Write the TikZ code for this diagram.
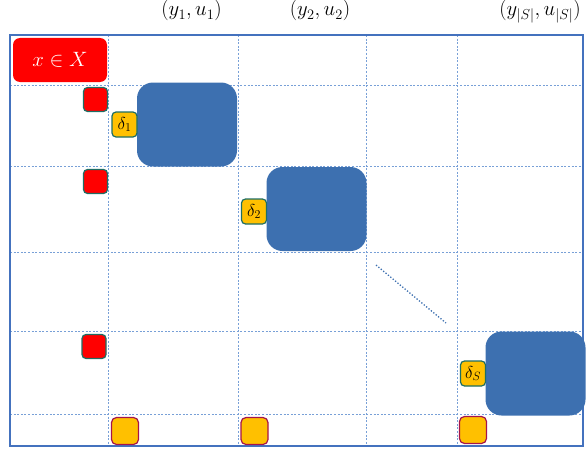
\documentclass[tikz,border=0pt]{standalone}
\usetikzlibrary{positioning}

\definecolor{frameblue}{RGB}{68,114,190}
\definecolor{gridblue}{RGB}{120,160,215}
\definecolor{blockblue}{RGB}{61,112,176}
\definecolor{boxteal}{RGB}{30,110,100}
\definecolor{deltayellow}{RGB}{255,192,0}
\definecolor{boxcrimson}{RGB}{165,20,75}

\tikzset{
  block/.style={fill=blockblue, rounded corners=16pt, minimum width=100pt,
    minimum height=84pt, inner sep=0, outer sep=0},
  redsq/.style={fill=red, draw=boxteal, line width=1.2pt, rounded corners=4pt,
    minimum size=24pt, inner sep=0},
  deltabox/.style={fill=deltayellow, draw=boxteal, line width=1.2pt,
    rounded corners=4pt, minimum size=25pt, inner sep=0, outer sep=0,
    font=\fontsize{17}{18}\selectfont},
  yellowsq/.style={fill=deltayellow, draw=boxcrimson, line width=1.2pt,
    rounded corners=5pt, minimum size=27pt, inner sep=0},
  collabel/.style={anchor=base, font=\fontsize{19.5}{24}\selectfont},
  gridline/.style={draw=gridblue, line width=0.8pt, dash pattern=on 2pt off 1.6pt},
}

\begin{document}
\begin{tikzpicture}[x=1pt, y=-1pt]
  \useasboundingbox (0,0) rectangle (586,452);

  % grid and frame
  \foreach \gy in {85,166,252,331,414}
    \draw[gridline] (10,\gy) -- (583,\gy);
  \foreach \gx in {108,238,366,457}
    \draw[gridline] (\gx,35) -- (\gx,446);
  \draw[frameblue, line width=2.5pt] (10,35) rectangle (583,446);

  \node[collabel] (L1) at (191.5,16) {$(y_1,u_1)$};
  \node[collabel] (L2) at (320,16)   {$(y_2,u_2)$};
  \node[collabel] (LS) at (540,16)   {$(y_{|S|},u_{|S|})$};

  \node[fill=red, rounded corners=7pt, minimum width=94pt, minimum height=44pt,
    text=white, font=\fontsize{21}{24}\selectfont] (X) at (60,60) {$x \in X$};

  \node[block] (B1) at (187,124.5) {};
  \node[block] (B2) at (316.5,209)  {};
  \node[block] (B3) at (535.5,373.5) {};

  \begin{scope}[node distance=0]
    \node[deltabox, left=of B1] (D1) {$\delta_1$};
    \node[deltabox, left=of B2, yshift=-2.5pt] (D2) {$\delta_2$};
    \node[deltabox, left=of B3] (DS) {$\delta_S$};
  \end{scope}

  \node[redsq] (R1) at (95.5,99.5)  {};
  \node[redsq] (R2) at (95.5,181.5) {};
  \node[redsq] (R3) at (94,346.5)   {};

  \node[yellowsq] (Y1) at (125,431)   {};
  \node[yellowsq] (Y2) at (254.5,431) {};
  \node[yellowsq] (Y3) at (473,430)   {};

  \coordinate (dotA) at (376,265);
  \coordinate (dotB) at (446,323);
  \draw[blockblue, line width=1.3pt, dash pattern=on 1.3pt off 1.8pt] (dotA) -- (dotB);
\end{tikzpicture}
\end{document}
